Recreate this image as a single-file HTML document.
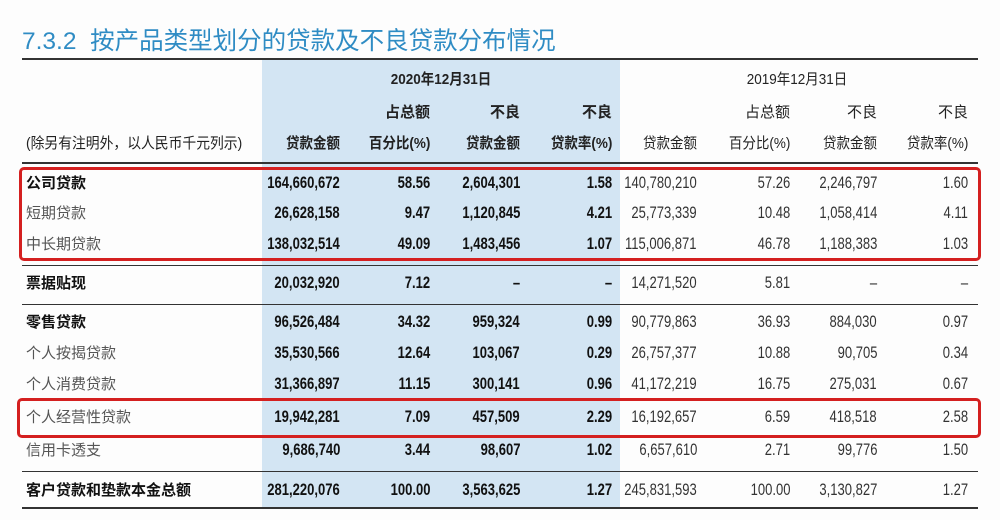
<!DOCTYPE html>
<html><head><meta charset="utf-8"><style>
html,body{margin:0;padding:0;background:#fff;}
#wrap{position:relative;width:1000px;height:520px;overflow:hidden;background:#fdfdfd;font-family:"Liberation Sans Narrow","Liberation Sans","Noto Sans CJK SC",sans-serif;color:#222;}
.abs{position:absolute;white-space:nowrap;}
.rule{position:absolute;left:22px;width:956px;background:#333;}
.t{position:absolute;white-space:nowrap;font-size:15px;line-height:18px;}
.n{font-size:16.5px;transform:scaleX(0.79);transform-origin:100% 50%;}
.b{font-weight:bold;}
.box{position:absolute;border:3px solid #d42020;border-radius:5px;box-sizing:border-box;}
</style></head><body>
<div id="wrap">
<div class="abs" style="left:262px;top:60px;width:358px;height:448px;background:#d3e5f3;"></div>
<div class="abs" style="left:22px;top:22px;font-size:24.5px;color:#2f8cc4;font-family:'Liberation Sans','Noto Sans CJK SC',sans-serif;">7.3.2&nbsp;&nbsp;按产品类型划分的贷款及不良贷款分布情况</div>
<div class="rule" style="top:58px;height:2px;"></div>
<div class="rule" style="top:162px;height:2px;"></div>
<div class="rule" style="top:265px;height:1px;"></div>
<div class="rule" style="top:304px;height:1px;"></div>
<div class="rule" style="top:471px;height:1px;"></div>
<div class="rule" style="top:507px;height:2px;"></div>
<div id="cells"></div>
<div class="box" style="left:19px;top:167px;width:962px;height:94px;"></div>
<div class="box" style="left:17px;top:398px;width:964px;height:40px;"></div>
</div>
<script>
const labels=["公司贷款","短期贷款","中长期贷款","票据贴现","零售贷款","个人按揭贷款","个人消费贷款","个人经营性贷款","信用卡透支","客户贷款和垫款本金总额"];
const amt2020=["164,660,672","26,628,158","138,032,514","20,032,920","96,526,484","35,530,566","31,366,897","19,942,281","9,686,740","281,220,076"];
const pct2020=["58.56","9.47","49.09","7.12","34.32","12.64","11.15","7.09","3.44","100.00"];
const npl2020=["2,604,301","1,120,845","1,483,456","–","959,324","103,067","300,141","457,509","98,607","3,563,625"];
const rate2020=["1.58","4.21","1.07","–","0.99","0.29","0.96","2.29","1.02","1.27"];
const amt2019=["140,780,210","25,773,339","115,006,871","14,271,520","90,779,863","26,757,377","41,172,219","16,192,657","6,657,610","245,831,593"];
const pct2019=["57.26","10.48","46.78","5.81","36.93","10.88","16.75","6.59","2.71","100.00"];
const npl2019=["2,246,797","1,058,414","1,188,383","–","884,030","90,705","275,031","418,518","99,776","3,130,827"];
const rate2019=["1.60","4.11","1.03","–","0.97","0.34","0.67","2.58","1.50","1.27"];
const boldRows=[0,3,4,9];
const rowY=[175,205,236,275,314,345,376,409,442,482];
const rights=[340,430,520,612,697,790,877,968];
const cols=[amt2020,pct2020,npl2020,rate2020,amt2019,pct2019,npl2019,rate2019];
const colNames=["amount-2020","share-2020","npl-2020","npl-rate-2020","amount-2019","share-2019","npl-2019","npl-rate-2019"];
const host=document.getElementById('cells');
function mk(txt,x,y,cls,right){
  const d=document.createElement('div');
  d.className='t '+cls;
  d.textContent=txt;
  if(right){d.style.right=(1000-x)+'px';}else{d.style.left=x+'px';}
  d.style.top=y+'px';
  host.appendChild(d);
  return d;
}
labels.forEach((l,i)=>{
  const bold=boldRows.includes(i);
  const e=mk(l,26,rowY[i],bold?'b':'',false);
  e.style.color=bold?'#111':'#555';
  
  
  cols.forEach((col,j)=>{
    const cell=mk(col[i],rights[j],rowY[i]-1,(j<4?'b n':'n'),true);
    cell.style.color=j<4?'#111':'#333';
    
    
  });
});
const hdr=[
 ["2020年12月31日",441,71,'b','center'],["2019年12月31日",797,71,'','center'],
 ["(除另有注明外，以人民币千元列示)",26,135,'',''],
];
hdr.forEach((h,k)=>{
  const e=mk(h[0],h[1],h[2],h[3],false);
  if(h[4]==='center'){e.style.transform='translateX(-50%) scaleX(0.9)';}
  else{e.style.transform='scaleX(0.92)';e.style.transformOrigin='0 50%';}
  
  
});
const sub1=["","占总额","不良","不良","","占总额","不良","不良"];
const sub2=["贷款金额","百分比(%)","贷款金额","贷款率(%)","贷款金额","百分比(%)","贷款金额","贷款率(%)"];
rights.forEach((x,j)=>{
  if(sub1[j]){const a=mk(sub1[j],x,104,j<4?'b':'',true);
  
  }
  const b=mk(sub2[j],x,135,j<4?'b':'',true);
  b.style.transform='scaleX(0.9)';
  b.style.transformOrigin='100% 50%';
  
  
});
</script>
</body></html>
